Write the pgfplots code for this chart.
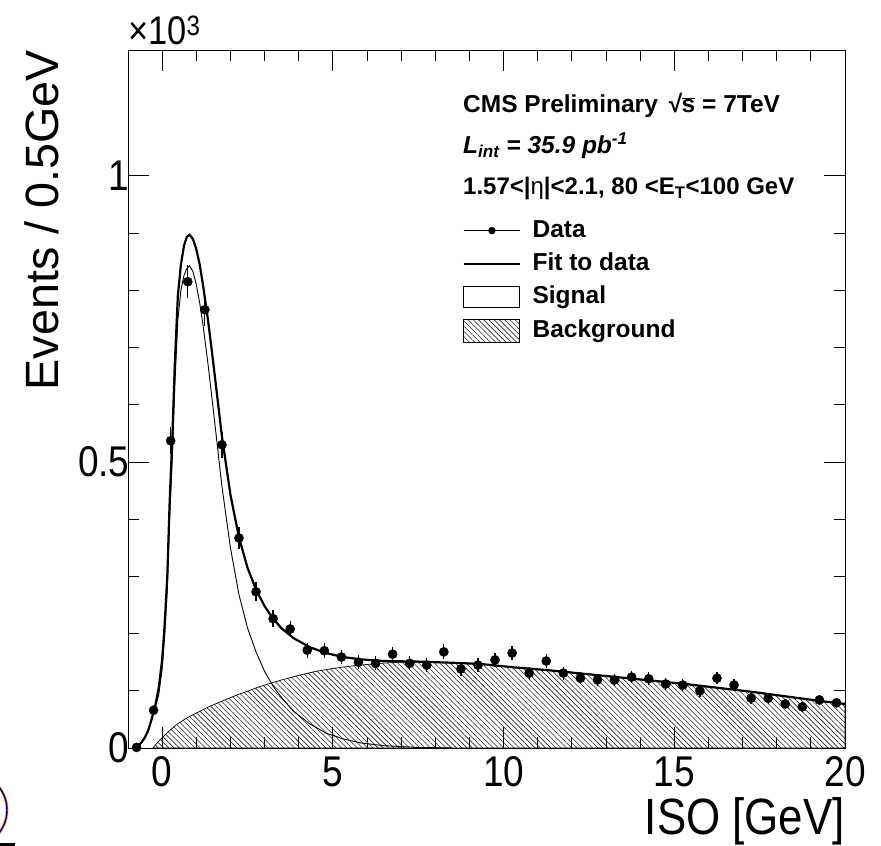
\documentclass[border=0pt]{standalone}
\usepackage{pgfplots}
\pgfplotsset{compat=1.18}
\usepackage{pgfplotstable}
\usepackage{fontspec}
\setmainfont{Liberation Sans}
\newfontfamily\narrowfont[FakeStretch=0.86]{Liberation Sans}
\usetikzlibrary{patterns.meta}

\pgfplotstableread{
x y e
-0.75 1 1
-0.25 66 8.1
0.25 537 23.2
0.75 815 28.5
1.25 766 27.7
1.75 530 23.0
2.25 367 19.2
2.75 273 16.5
3.25 226 15.0
3.75 208 14.4
4.25 171 13.1
4.75 170 13.0
5.25 159 12.6
5.75 150 12.2
6.25 148 12.2
6.75 164 12.8
7.25 148 12.2
7.75 145 12.0
8.25 168 13.0
8.75 138 11.7
9.25 145 12.0
9.75 154 12.4
10.25 166 12.9
10.75 131 11.4
11.25 152 12.3
11.75 131 11.4
12.25 122 11.0
12.75 119 10.9
13.25 119 10.9
13.75 124 11.1
14.25 121 11.0
14.75 112 10.6
15.25 110 10.5
15.75 100 10.0
16.25 122 11.0
16.75 110 10.5
17.25 87 9.3
17.75 87 9.3
18.25 77 8.8
18.75 72 8.5
19.25 84 9.2
19.75 79 8.9
}\datatable

\pgfplotstableread{
x y
-0.8 0
-0.7 4
-0.6 10
-0.5 19
-0.4 32
-0.3 52
-0.2 75
-0.1 105
0.0 154
0.07 212
0.15 299
0.22 430
0.3 545
0.37 670
0.46 790
0.55 845
0.64 878
0.72 893
0.8 897
0.9 890
1.0 872
1.1 845
1.2 808
1.35 745
1.5 672
1.75 545
2.0 443
2.25 368
2.5 315
2.75 277
3.0 248
3.25 226
3.5 209
3.85 192
4.33 176
4.8 166
5.3 159
5.8 155
6.5 152
7.5 151
8.5 149
9.3 147
10.3 141
11.3 136
12.3 130
13.3 124
14.3 118
15.3 112
16.3 105
17.3 98
18.3 90
19.3 82
20 77
}\fittable

\pgfplotstableread{
x y
-0.8 0
-0.7 4
-0.6 10
-0.5 19
-0.4 32
-0.3 52
-0.2 71
-0.1 93
0.0 138
0.07 192
0.15 276
0.22 402
0.3 510
0.37 632
0.46 748
0.55 800
0.64 826
0.72 838
0.8 843
0.9 833
1.0 810
1.1 778
1.2 738
1.35 668
1.5 590
1.75 458
2.0 350
2.25 268
2.5 210
2.75 168
3.0 134
3.25 108
3.5 88
3.85 64
4.33 42
4.8 26
5.3 16
5.8 9
6.5 4
7.5 1
8.5 0
}\sigtable

\pgfplotstableread{
x y
-0.27 0
-0.2 5
-0.1 12
0.0 18
0.1 24
0.25 32
0.4 40
0.6 48
0.8 55
1.0 61
1.2 67
1.4 73
1.6 78
1.8 83
2.0 88
2.25 94
2.5 99
2.75 105
3.0 110
3.5 119
4.0 127
4.5 134
5.0 139
5.5 143
6.0 146
6.5 148.5
7.0 150
7.5 150
8.5 149
9.3 147
10.3 141
11.3 136
12.3 130
13.3 124
14.3 118
15.3 112
16.3 105
17.3 98
18.3 90
19.3 82
20 77
}\bgtable

\begin{document}
\begin{tikzpicture}
\begin{axis}[
  at={(128pt,98pt)}, anchor=south west,
  scale only axis, width=717pt, height=698pt,
  xmin=-1, xmax=20, ymin=0, ymax=1220,
  xtick={0,5,10,15,20}, minor x tick num=4,
  ytick={0,500,1000}, yticklabels={0,0.5,1}, minor y tick num=4,
  scaled y ticks=false,
  tick align=inside, major tick length=21pt, minor tick length=11pt,
  axis line style={line width=0.8pt},
  every tick/.style={line width=0.8pt, black},
  /pgf/number format/assume math mode=true,
  ticklabel style={font=\narrowfont\fontsize{43}{43}\selectfont},
  xticklabel style={yshift=-5pt},
  yticklabel style={xshift=5pt},
  legend cell align=left,
  legend style={draw=none, fill=none,
    at={(axis description cs:0.4672,0.758)}, anchor=north west,
    font=\bfseries\fontsize{24.5}{24.5}\selectfont,
    inner xsep=0pt, inner ysep=0pt, row sep=10.3pt, column sep=12pt,
    nodes={inner sep=0pt, text height=18pt, text depth=5pt}},
]
\addplot[forget plot, draw=black, line width=0.7pt,
  pattern={Lines[angle=-45, distance=3.7pt, line width=0.6pt]}, pattern color=black!85]
  table[x=x,y=y]{\bgtable} \closedcycle;
\addplot[forget plot, black, line width=0.9pt] table[x=x,y=y]{\sigtable};
\addplot[forget plot, black, line width=2.2pt] table[x=x,y=y]{\fittable};
\addplot[forget plot, only marks, mark=*, mark size=4.6pt, black,
  error bars/.cd, y dir=both, y explicit,
  error bar style={line width=1.3pt}, error mark=none]
  table[x=x,y=y,y error=e]{\datatable};

\addlegendimage{legend image code/.code={\draw[line width=0.8pt] (0pt,0pt) -- (56pt,0pt); \fill (28pt,0pt) circle (3.5pt);}}
\addlegendentry{Data}
\addlegendimage{legend image code/.code={\draw[line width=1.4pt] (0pt,0pt) -- (56pt,0pt);}}
\addlegendentry{Fit to data}
\addlegendimage{legend image code/.code={\draw[line width=0.8pt] (0pt,-10.5pt) rectangle (56pt,10.5pt);}}
\addlegendentry{Signal}
\addlegendimage{legend image code/.code={\draw[line width=0.8pt, pattern={Lines[angle=-45, distance=3.7pt, line width=0.6pt]}, pattern color=black!85] (0pt,-11.5pt) rectangle (56pt,11.5pt);}}
\addlegendentry{Background}
\end{axis}

% y label
\node[rotate=90, anchor=base east, inner sep=0pt, font=\fontsize{46.7}{46.7}\selectfont] at (58pt,796pt) {Events / 0.5GeV};
% x label
\node[anchor=base east, inner sep=0pt, font=\narrowfont\fontsize{51}{51}\selectfont] at (845pt,11pt) {ISO [GeV]};
% exponent
\node[anchor=base west, inner sep=0pt, font=\narrowfont\fontsize{40}{40}\selectfont] at (128pt,801pt) {×10\textsuperscript{3}};
% header lines
\node[anchor=base west, inner sep=0pt, font=\bfseries\fontsize{24.5}{24.5}\selectfont] at (463pt,733pt) {CMS Preliminary \,√\kern-0.5pt$\overline{\mbox{s}}$ = 7TeV};
\node[anchor=base west, inner sep=0pt, font=\bfseries\itshape\fontsize{24.5}{24.5}\selectfont] at (463pt,692pt) {L\textsubscript{int} = 35.9 pb\textsuperscript{-1}};
\node[anchor=base west, inner sep=0pt, font=\bfseries\fontsize{24}{24}\selectfont] at (463pt,651pt) {1.57<|{\mdseries η}|<2.1, 80 <E\textsubscript{T}<100 GeV};
% cropped logo fragment at lower left
\begin{scope}
\clip (0,0) rectangle (20pt,80pt);
\draw[orange!70, line width=3pt] (-30pt,36pt) circle (37pt);
\draw[blue!50!black, line width=1.4pt] (-30pt,36pt) circle (37pt);
\end{scope}
\fill[black] (0,0) rectangle (15pt,3pt);
\pgfresetboundingbox
\path[use as bounding box] (0,0) rectangle (881pt,846pt);
\end{tikzpicture}
\end{document}
